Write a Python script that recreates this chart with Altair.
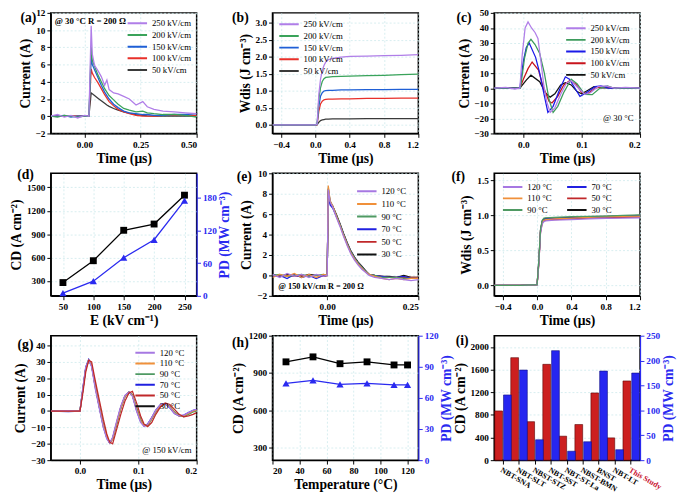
import altair as alt
import pandas as pd

SERIF = "Liberation Serif"
BLUE = "#2a2af0"

# ---------------- (a) current vs time, several fields ----------------
a_names = ["250 kV/cm", "200 kV/cm", "150 kV/cm", "100 kV/cm", "50 kV/cm"]
a_colors = ["#b07ee8", "#3aa35a", "#1f5fd6", "#e8302a", "#3a3a3a"]
a_t = [-0.15, -0.12, -0.09, -0.06, -0.03, 0.0, 0.02, 0.03, 0.035, 0.045, 0.06, 0.075, 0.09, 0.1,
       0.11, 0.13, 0.15, 0.175, 0.2, 0.23, 0.26, 0.28, 0.31, 0.35, 0.4, 0.45, 0.5]
a_250 = [0.0, 0.2, -0.1, 0.1, -0.2, 0.1, 0.0, 10.5, 7.2, 5.9, 5.3, 4.6, 3.6, 4.2, 3.1, 2.7, 2.6, 2.3,
         2.0, 1.3, 1.7, 1.1, 0.8, 0.6, 0.5, 0.4, 0.3]
a_200 = [0.0, -0.1, 0.1, 0.0, -0.1, 0.0, 0.0, 8.1, 6.5, 5.8, 4.8, 4.0, 3.2, 2.8, 2.4, 1.9, 1.4, 0.9,
         0.7, 0.5, 0.6, 0.4, 0.3, 0.2, 0.2, 0.1, -0.1]
a_150 = [0.0, 0.0, 0.1, -0.1, 0.0, 0.0, 0.0, 7.0, 6.0, 5.4, 4.5, 3.6, 2.8, 2.4, 2.0, 1.4, 1.0, 0.6,
         0.4, 0.3, 0.2, 0.2, 0.1, 0.1, 0.2, 0.2, 0.3]
a_100 = [0.0, 0.0, 0.0, 0.0, 0.0, 0.0, 0.0, 5.5, 5.0, 4.5, 3.9, 3.2, 2.5, 2.1, 1.7, 1.2, 0.8, 0.5,
         0.3, 0.1, 0.0, 0.0, 0.0, 0.1, 0.1, 0.1, 0.1]
a_50 = [0.0, 0.0, 0.0, 0.0, 0.0, 0.0, 0.0, 2.7, 2.6, 2.4, 2.1, 1.8, 1.5, 1.3, 1.15, 0.9, 0.7, 0.5,
        0.35, 0.2, 0.1, 0.05, 0.0, 0.0, 0.0, 0.0, 0.0]

# ---------------- (b) Wdis vs time ----------------
b_t = [-0.5, 0.0, 0.02, 0.04, 0.06, 0.08, 0.1, 0.12, 0.15, 0.2, 0.3, 0.4, 0.6, 0.8, 1.0, 1.2]
b_250 = [0, 0, 0.02, 0.9, 1.35, 1.6, 1.75, 1.85, 1.92, 1.96, 2.0, 2.02, 2.03, 2.04, 2.05, 2.07]
b_200 = [0, 0, 0.02, 0.75, 1.1, 1.28, 1.36, 1.4, 1.41, 1.42, 1.43, 1.44, 1.45, 1.46, 1.48, 1.5]
b_150 = [0, 0, 0.02, 0.55, 0.85, 0.95, 1.0, 1.01, 1.02, 1.02, 1.03, 1.03, 1.04, 1.04, 1.05, 1.05]
b_100 = [0, 0, 0.01, 0.4, 0.62, 0.7, 0.74, 0.75, 0.76, 0.76, 0.77, 0.77, 0.78, 0.78, 0.79, 0.79]
b_50 = [0, 0, 0.0, 0.08, 0.13, 0.15, 0.16, 0.17, 0.17, 0.18, 0.18, 0.18, 0.19, 0.19, 0.19, 0.19]

# ---------------- (c) underdamped current ----------------
c_colors = ["#b07ee8", "#3d9b5c", "#1a1ae8", "#c8141c", "#111111"]
c_t_250 = [-0.05, -0.03, -0.015, -0.006, -0.002, 0.003, 0.008, 0.014, 0.02, 0.025, 0.03, 0.035, 0.04,
           0.046, 0.054, 0.064, 0.074, 0.082, 0.092, 0.105, 0.115, 0.128, 0.141, 0.156, 0.175, 0.2]
c_y_250 = [0, 0.5, -0.5, 0, 22, 40, 44, 40, 37, 33, 18, 2, -9, -16, -13, -4, 3.5, 5, 1, -4, -3, 1,
           1.5, 0, 0.5, 0]
c_t_200 = [-0.05, -0.02, -0.005, 0.002, 0.008, 0.013, 0.02, 0.028, 0.036, 0.044, 0.051, 0.059, 0.069,
           0.082, 0.092, 0.105, 0.118, 0.131, 0.144, 0.156, 0.2]
c_y_200 = [0, 0, 0, 20, 30, 32.5, 29, 23, 10, -7.5, -16, -12, -3, 6, 3, -4, -4.3, 0, 1.5, 0, 0]
c_t_150 = [-0.05, -0.006, 0.0, 0.005, 0.01, 0.021, 0.028, 0.036, 0.042, 0.051, 0.062, 0.072, 0.079,
           0.09, 0.097, 0.108, 0.123, 0.133, 0.146, 0.2]
c_y_150 = [0, 0, 18, 27, 30, 20.5, 10, -5, -16, -12, -1, 7.6, 6, -1, -5.4, -3, 1, 1.5, 0, 0]
c_t_100 = [-0.05, -0.006, 0.0, 0.008, 0.015, 0.026, 0.033, 0.044, 0.049, 0.059, 0.069, 0.079, 0.09,
           0.1, 0.11, 0.123, 0.136, 0.149, 0.156, 0.2]
c_y_100 = [0, 0, 6, 13, 17.4, 12, 2, -8.7, -9.8, -5.4, 2, 5, 2.8, -2.8, -3.7, 0, 1, 0.6, 0, 0]
c_t_50 = [-0.05, -0.006, 0.005, 0.013, 0.028, 0.038, 0.046, 0.054, 0.064, 0.072, 0.082, 0.092, 0.1,
          0.11, 0.121, 0.133, 0.2]
c_y_50 = [0, 0, 5.4, 8.7, 4.3, -3.2, -5.9, -3.7, 2.2, 3.7, 2.2, -2.2, -3.7, -1.5, 1, 0.2, 0]

# ---------------- (d) CD / PD vs field ----------------
d_E = [50, 100, 150, 200, 250]
d_CD = [280, 560, 950, 1030, 1400]
d_PD = [5, 27, 70, 103, 175]

# ---------------- (e) current vs time, temperatures ----------------
T_names = ["120 °C", "110 °C", "90 °C", "70 °C", "50 °C", "30 °C"]
T_colors = ["#a678e2", "#f0903a", "#4f9a63", "#2020e0", "#c0282a", "#111111"]
e_t = [-0.15, -0.13, -0.11, -0.09, -0.07, -0.05, -0.03, -0.01, 0.0, 0.003, 0.008, 0.015, 0.025,
       0.035, 0.045, 0.055, 0.065, 0.075, 0.085, 0.095, 0.105, 0.115, 0.13, 0.15, 0.17, 0.19, 0.21,
       0.23, 0.25]
e_120 = [0.1, -0.2, 0.2, -0.1, 0.1, -0.2, 0.1, -0.1, 0.0, 8.4, 7.2, 6.7, 5.7, 4.8, 3.8, 2.9, 2.1, 1.5,
         1.0, 0.6, 0.3, 0.0, -0.2, -0.3, -0.4, -0.3, -0.4, -0.5, -0.4]
e_110 = [-0.2, 0.1, -0.1, 0.2, -0.2, 0.1, -0.2, 0.1, 0.0, 8.8, 7.3, 6.8, 5.8, 4.9, 3.9, 3.0, 2.2, 1.6,
         1.1, 0.7, 0.35, 0.1, -0.1, -0.3, -0.4, -0.3, -0.4, -0.3, -0.3]
e_90 = [0.0, 0.1, -0.1, 0.0, 0.1, -0.1, 0.0, 0.1, 0.0, 8.6, 7.3, 6.8, 5.9, 5.0, 4.0, 3.1, 2.3, 1.7,
        1.2, 0.8, 0.4, 0.1, 0.0, -0.2, -0.2, -0.2, -0.3, -0.3, -0.3]
e_70 = [-0.1, 0.0, -0.3, 0.1, -0.2, 0.0, -0.3, 0.0, 0.0, 8.2, 6.9, 6.6, 5.8, 5.0, 4.0, 3.1, 2.3, 1.7,
        1.2, 0.8, 0.4, 0.1, 0.0, -0.1, -0.2, -0.2, -0.1, -0.3, -0.3]
e_50 = [0.0, -0.1, 0.0, -0.1, 0.0, -0.1, 0.0, -0.1, 0.0, 8.5, 7.2, 6.8, 5.9, 5.0, 4.0, 3.1, 2.3, 1.7,
        1.2, 0.8, 0.4, 0.1, 0.0, -0.1, -0.2, -0.2, -0.2, -0.2, -0.2]
e_30 = [0.1, -0.1, 0.1, 0.0, -0.1, 0.1, 0.0, -0.1, 0.0, 8.3, 7.1, 6.8, 6.0, 5.1, 4.1, 3.2, 2.4, 1.8,
        1.3, 0.9, 0.5, 0.1, 0.0, -0.1, -0.1, -0.2, 0.0, -0.2, -0.2]

# ---------------- (f) Wdis vs time, temperatures ----------------
f_t = [-0.5, -0.2, 0.0, 0.02, 0.04, 0.06, 0.08, 0.1, 0.2, 0.4, 0.6, 0.8, 1.0, 1.2]
f_120 = [0, 0, 0.01, 0.3, 0.75, 0.88, 0.91, 0.92, 0.93, 0.94, 0.95, 0.955, 0.96, 0.965]
f_110 = [0, 0, 0.01, 0.32, 0.78, 0.9, 0.93, 0.94, 0.95, 0.96, 0.97, 0.98, 0.985, 0.99]
f_90 = [0, 0, 0.01, 0.35, 0.8, 0.93, 0.96, 0.965, 0.97, 0.98, 0.985, 0.99, 1.0, 1.005]
f_70 = [0, 0, 0.01, 0.33, 0.78, 0.91, 0.94, 0.95, 0.955, 0.965, 0.975, 0.98, 0.99, 0.995]
f_50 = [0, 0, 0.01, 0.3, 0.76, 0.89, 0.92, 0.93, 0.94, 0.95, 0.96, 0.965, 0.97, 0.975]
f_30 = [0, 0, 0.01, 0.34, 0.79, 0.92, 0.95, 0.955, 0.96, 0.97, 0.98, 0.985, 0.99, 1.0]

# ---------------- (g) underdamped current, temperatures ----------------
g_t = [-0.05, -0.02, 0.0, 0.005, 0.01, 0.015, 0.02, 0.026, 0.033, 0.04, 0.046, 0.051, 0.056, 0.063,
       0.07, 0.077, 0.084, 0.09, 0.097, 0.104, 0.11, 0.116, 0.123, 0.13, 0.138, 0.146, 0.154, 0.162,
       0.17, 0.178, 0.186, 0.194, 0.2]
g_120 = [0, 0.3, 0, 14, 27, 31, 27, 14, 2, -10, -17, -19.5, -16, -6, 3, 9.5, 11.5, 9, 0, -7, -9.5, -8,
         -4, 0.5, 4, 4.5, 2, -1.5, -3, -2.5, -1, 0.5, 1]
g_110 = [0, 0, 0, 13, 26, 31, 28, 15, 3, -9, -16, -19.5, -17, -7, 2, 9, 11.5, 9.5, 1, -6, -9, -8.5,
         -4.5, 0, 3.5, 4.5, 2.5, -1, -3, -3, -1.5, 0, 0.5]
g_90 = [0, 0, 0, 13, 26, 31, 28, 16, 3.5, -8, -16, -19, -17, -8, 1.5, 8.5, 11.5, 10, 2, -5, -8.5, -9,
        -5, -0.5, 3, 4.5, 3, -0.5, -2.5, -3.5, -2, -0.5, 0]
g_70 = [0, -0.3, 0, 14, 27, 31.5, 27.5, 15, 2.5, -9.5, -16.5, -19.5, -16.5, -7, 2.5, 9, 11.5, 9.5,
        0.5, -6.5, -9, -8, -4, 0.5, 4, 4.5, 2, -1.5, -3, -2.5, -1, 0.5, 1]
g_50 = [0, 0, 0, 11, 24, 31, 30, 19, 7, -5, -14, -19, -20, -11, -2, 6, 11, 12, 5, -3, -8, -9.5, -7,
        -2, 2.5, 5, 4, 1, -2, -3.5, -3, -2, -1]
g_30 = [0, 0, 0, 13, 26, 31, 28, 16, 3, -8.5, -16, -19.5, -17, -7.5, 2, 9, 11.5, 9.5, 1.5, -5.5, -9,
        -8.5, -4.5, 0, 3.5, 4.5, 2.5, -1, -3, -3, -1.5, 0, 0.5]

# ---------------- (h) CD / PD vs temperature ----------------
h_T = [30, 50, 70, 90, 110, 120]
h_CD = [990, 1030, 975, 990, 965, 965]
h_PD = [74, 77, 73, 74, 72.5, 72.5]

# ---------------- (i) comparison bars ----------------
i_cat = ["NBT-SNA", "NBT-SLT", "NBST-STZ", "NBT-SST", "NBT-ST-La", "NBST-BMN", "BNST", "NBT-LT",
         "This Study"]
i_CD = [870, 1812, 680, 1694, 424, 630, 1188, 394, 1400]
i_PD = [131, 181, 41, 220, 18, 37, 179, 21, 175]


def series_df(items):
    frames = []
    for name, t, y in items:
        assert len(t) == len(y), name
        frames.append(pd.DataFrame({"t": t, "y": y, "s": name}))
    return pd.concat(frames, ignore_index=True)


def label(txt, x, y):
    return alt.Chart(pd.DataFrame({"l": [txt]})).mark_text(
        font=SERIF, fontSize=14, fontWeight="bold", align="center", baseline="middle", color="black"
    ).encode(text="l:N", x=alt.value(x), y=alt.value(y))


def note(txt, x, y, size=9, weight="bold", align="left"):
    return alt.Chart(pd.DataFrame({"l": [txt]})).mark_text(
        font=SERIF, fontSize=size, fontWeight=weight, align=align, baseline="middle", color="black"
    ).encode(text="l:N", x=alt.value(x), y=alt.value(y))


def right_axis(title, values):
    return alt.Axis(title=title, orient="right", values=values, format="d",
                    titleColor=BLUE, labelColor=BLUE, domainColor=BLUE, tickColor=BLUE,
                    grid=False, titleAngle=270, titleBaseline="top", titlePadding=2)


def line_panel(df, names, colors, xdom, xticks, xfmt, ydom, yticks, yfmt, ytitle, w, h, legend, extras):
    lines = alt.Chart(df).mark_line(strokeWidth=1.3, clip=True).encode(
        x=alt.X("t:Q", scale=alt.Scale(domain=xdom, nice=False, zero=False),
                axis=alt.Axis(title="Time (μs)", values=xticks, format=xfmt)),
        y=alt.Y("y:Q", scale=alt.Scale(domain=ydom, nice=False, zero=False),
                axis=alt.Axis(title=ytitle, values=yticks, format=yfmt)),
        color=alt.Color("s:N", scale=alt.Scale(domain=names, range=colors),
                        legend=alt.Legend(title=None, symbolType="stroke", **legend)),
    )
    return alt.layer(lines, *extras).properties(width=w, height=h)


W = 150
H1, H2, H3 = 124, 126, 128

# (a)
df_a = series_df([("50 kV/cm", a_t, a_50), ("100 kV/cm", a_t, a_100), ("150 kV/cm", a_t, a_150),
                  ("200 kV/cm", a_t, a_200), ("250 kV/cm", a_t, a_250)])
pa = line_panel(df_a, a_names, a_colors, [-0.15, 0.5], [0.0, 0.25, 0.5], ".2f", [-2, 12],
                list(range(-2, 13, 2)), "d", "Current (A)", W, H1,
                dict(orient="top-right", offset=3, clipHeight=11.5),
                [label("(a)", -23, 5), note("@ 30 °C  R = 200 Ω", 4, 8)])

# (b)
df_b = series_df([("50 kV/cm", b_t, b_50), ("100 kV/cm", b_t, b_100), ("150 kV/cm", b_t, b_150),
                  ("200 kV/cm", b_t, b_200), ("250 kV/cm", b_t, b_250)])
pb = line_panel(df_b, a_names, a_colors, [-0.5, 1.2], [-0.4, 0.0, 0.4, 0.8, 1.2], ".1f", [-0.25, 3.3],
                [0, 0.5, 1.0, 1.5, 2.0, 2.5, 3.0], ".1f", "Wdis (J cm⁻³)", W, H1,
                dict(orient="top-left", offset=4, clipHeight=11.5),
                [label("(b)", -33, 5)])

# (c)
df_c = series_df([("50 kV/cm", c_t_50, c_y_50), ("100 kV/cm", c_t_100, c_y_100),
                  ("150 kV/cm", c_t_150, c_y_150), ("200 kV/cm", c_t_200, c_y_200),
                  ("250 kV/cm", c_t_250, c_y_250)])
pc = line_panel(df_c, a_names, c_colors, [-0.05, 0.2], [0.0, 0.1, 0.2], ".1f", [-30, 50],
                list(range(-30, 51, 10)), "d", "Current (A)", W, H1,
                dict(orient="top-right", offset=8, clipHeight=11.5),
                [label("(c)", -31, 5), note("@ 30 °C", 112, 108, weight="normal")])

# (d)
df_d = pd.DataFrame({"E": d_E, "cd": d_CD, "pd": d_PD})
xd = alt.X("E:Q", scale=alt.Scale(domain=[30, 270], nice=False, zero=False),
           axis=alt.Axis(title="E (kV cm⁻¹)", values=d_E))
d_left = alt.Chart(df_d).mark_line(
    color="black", strokeWidth=1.3,
    point=alt.OverlayMarkDef(shape="square", size=50, filled=True, color="black")
).encode(x=xd, y=alt.Y("cd:Q", scale=alt.Scale(domain=[110, 1680], nice=False, zero=False),
                       axis=alt.Axis(title="CD (A cm⁻²)", values=[300, 600, 900, 1200, 1500],
                                     format="d")))
d_right = alt.Chart(df_d).mark_line(
    color=BLUE, strokeWidth=1.3,
    point=alt.OverlayMarkDef(shape="triangle-up", size=55, filled=True, color=BLUE)
).encode(x=xd, y=alt.Y("pd:Q", scale=alt.Scale(domain=[0, 225], nice=False),
                       axis=right_axis("PD (MW cm⁻³)", [0, 60, 120, 180])))
pd_ = alt.layer(d_left, d_right, label("(d)", -26, 2)).resolve_scale(y="independent").properties(
    width=W, height=H2)

# (e)
df_e = series_df([("30 °C", e_t, e_30), ("50 °C", e_t, e_50), ("70 °C", e_t, e_70),
                  ("90 °C", e_t, e_90), ("110 °C", e_t, e_110), ("120 °C", e_t, e_120)])
pe = line_panel(df_e, T_names, T_colors, [-0.15, 0.25], [0.0, 0.25], ".2f", [-2, 10],
                list(range(-2, 11, 2)), "d", "Current (A)", W, H2,
                dict(orient="top-right", offset=10, clipHeight=13),
                [label("(e)", -29, 4), note("@ 150 kV/cm    R = 200 Ω", 6, 116, size=8.5)])

# (f)
df_f = series_df([("30 °C", f_t, f_30), ("50 °C", f_t, f_50), ("70 °C", f_t, f_70),
                  ("110 °C", f_t, f_110), ("120 °C", f_t, f_120), ("90 °C", f_t, f_90)])
pf = line_panel(df_f, T_names, T_colors, [-0.5, 1.2], [-0.4, 0.0, 0.4, 0.8, 1.2], ".1f", [-0.15, 1.6],
                [0, 0.5, 1.0, 1.5], ".1f", "Wdis (J cm⁻³)", W, H2,
                dict(orient="top-left", offset=6, clipHeight=11.5, columns=2, columnPadding=14),
                [label("(f)", -37, 4)])

# (g)
df_g = series_df([("30 °C", g_t, g_30), ("70 °C", g_t, g_70), ("90 °C", g_t, g_90),
                  ("110 °C", g_t, g_110), ("120 °C", g_t, g_120), ("50 °C", g_t, g_50)])
pg = line_panel(df_g, T_names, T_colors, [-0.05, 0.2], [0.0, 0.1, 0.2], ".1f", [-30, 46],
                list(range(-30, 41, 10)), "d", "Current (A)", W, H3,
                dict(orient="top-right", offset=10, clipHeight=11),
                [label("(g)", -26, 10), note("@ 150 kV/cm", 94, 118, weight="normal")])

# (h)
df_h = pd.DataFrame({"T": h_T, "cd": h_CD, "pd": h_PD})
xh = alt.X("T:Q", scale=alt.Scale(domain=[20, 128], nice=False, zero=False),
           axis=alt.Axis(title="Temperature (°C)", values=[20, 40, 60, 80, 100, 120]))
h_left = alt.Chart(df_h).mark_line(
    color="black", strokeWidth=1.3,
    point=alt.OverlayMarkDef(shape="square", size=50, filled=True, color="black")
).encode(x=xh, y=alt.Y("cd:Q", scale=alt.Scale(domain=[200, 1200], nice=False, zero=False),
                       axis=alt.Axis(title="CD (A cm⁻²)", values=[300, 600, 900, 1200], format="d")))
h_right = alt.Chart(df_h).mark_line(
    color=BLUE, strokeWidth=1.3,
    point=alt.OverlayMarkDef(shape="triangle-up", size=55, filled=True, color=BLUE)
).encode(x=xh, y=alt.Y("pd:Q", scale=alt.Scale(domain=[0, 120], nice=False),
                       axis=right_axis("PD (MW cm⁻³)", [0, 30, 60, 90, 120])))
ph = alt.layer(h_left, h_right, label("(h)", -33, 8)).resolve_scale(y="independent").properties(
    width=W, height=H3)

# (i)
df_i = pd.DataFrame({"cat": i_cat, "cd": i_CD, "pd": i_PD})
xi = alt.X("cat:N", sort=i_cat, scale=alt.Scale(paddingInner=0.2, paddingOuter=0.15),
           axis=alt.Axis(title=None, labelAngle=30, labelAlign="left", labelBaseline="top",
                         labelFontSize=8, grid=False,
                         labelColor={"expr": "datum.value == 'This Study' ? '#c8102e' : 'black'"}))
i_left = alt.Chart(df_i).mark_bar(width=8, xOffset=-4.5, color="#cc1f1f", stroke="#5a0000",
                                  strokeWidth=0.6).encode(
    x=xi, y=alt.Y("cd:Q", scale=alt.Scale(domain=[0, 2200], nice=False),
                  axis=alt.Axis(title="CD (A cm⁻²)", values=[0, 400, 800, 1200, 1600, 2000],
                                format="d")))
i_right = alt.Chart(df_i).mark_bar(width=8, xOffset=4.5, color="#2626f0", stroke="#101080",
                                   strokeWidth=0.6).encode(
    x=xi, y=alt.Y("pd:Q", scale=alt.Scale(domain=[0, 250], nice=False),
                  axis=right_axis("PD (MW cm⁻³)", [0, 50, 100, 150, 200, 250])))
pi = alt.layer(i_left, i_right, label("(i)", -33, 6)).resolve_scale(y="independent").properties(
    width=W, height=H3)

chart = alt.concat(
    pa, pb, pc, pd_, pe, pf, pg, ph, pi,
    columns=3, spacing={"row": 41, "column": 78}, bounds="flush"
).resolve_scale(color="independent").properties(
    padding={"top": -8, "left": 1, "right": 1, "bottom": 1}
).configure_view(
    stroke="black", strokeWidth=1.5
).configure_axis(
    labelFont=SERIF, labelFontSize=9.5, labelFontWeight="bold", labelColor="black",
    titleFont=SERIF, titleFontSize=14, titleFontWeight="bold", titleColor="black",
    gridColor="#cde9ec", gridDash=[2, 2], gridWidth=0.8,
    domainColor="black", domainWidth=1.2, tickColor="black", tickSize=4,
    labelPadding=2, titlePadding=3
).configure_legend(
    labelFont=SERIF, labelFontSize=9, symbolStrokeWidth=2, symbolSize=400,
    padding=2, rowPadding=0, labelOffset=4
)

chart.save("out.html", embed_options={"renderer": "svg", "actions": False})
